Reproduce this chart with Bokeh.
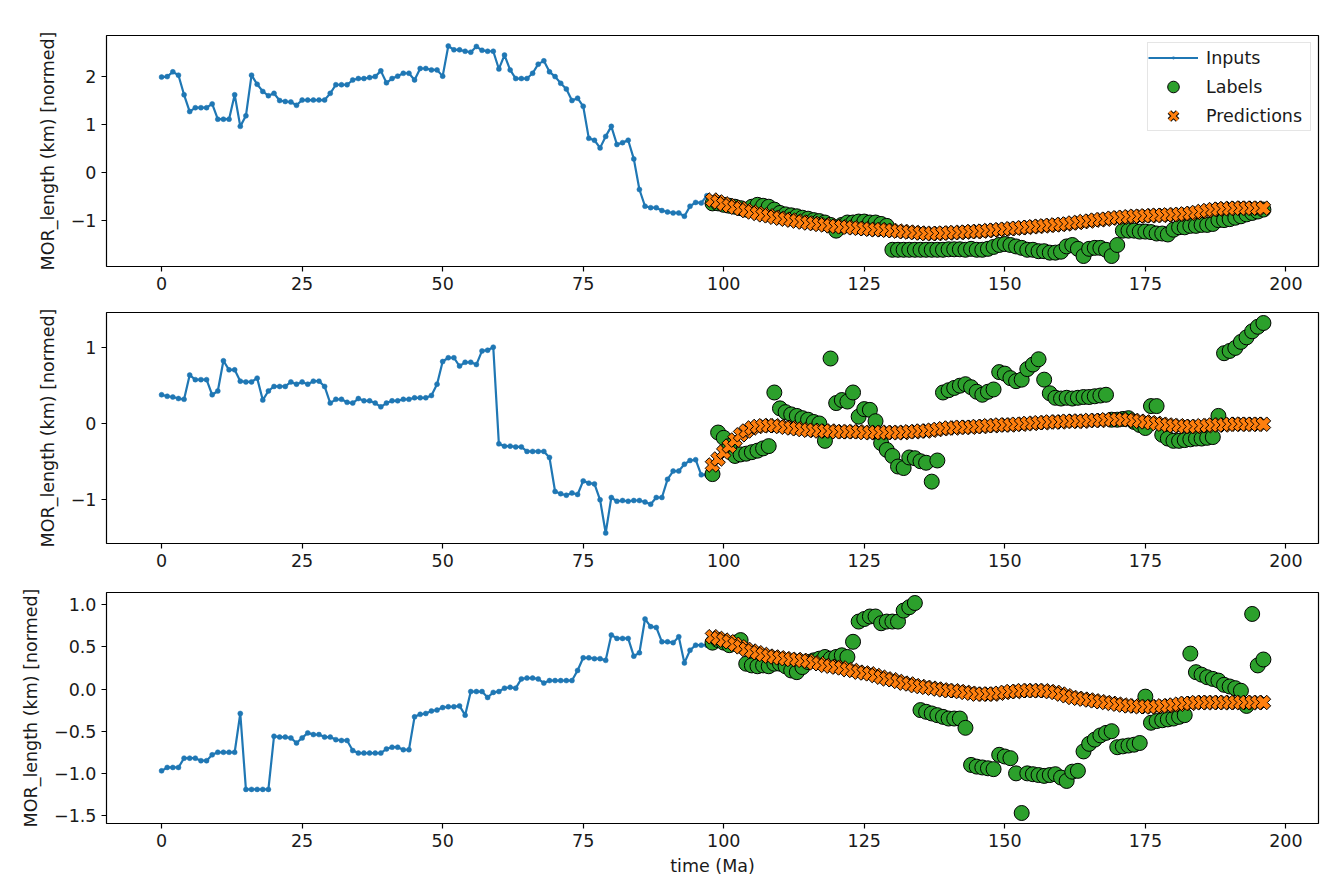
import numpy as np
from bokeh.plotting import figure
from bokeh.layouts import column
from bokeh.models import Range1d, FixedTicker, CustomJSTickFormatter, Legend, LegendItem
from bokeh.embed import file_html
from bokeh.resources import INLINE

# ---------------- data ----------------
x_ticks = [0, 25, 50, 75, 100, 125, 150, 175, 200]
label_start = 98

p1_inputs = [1.99, 2.00, 2.10, 2.03, 1.62, 1.27, 1.35, 1.35, 1.35, 1.43,
             1.11, 1.11, 1.11, 1.62, 0.96, 1.18, 2.03, 1.84, 1.69, 1.60,
             1.65, 1.50, 1.48, 1.47, 1.40, 1.51, 1.51, 1.51, 1.51, 1.51,
             1.65, 1.83, 1.83, 1.83, 1.93, 1.96, 1.96, 1.98, 2.00, 2.12,
             1.87, 1.96, 2.01, 2.07, 2.07, 1.93, 2.17, 2.17, 2.14, 2.14,
             2.01, 2.64, 2.56, 2.56, 2.53, 2.51, 2.63, 2.55, 2.53, 2.53,
             2.16, 2.45, 2.14, 1.96, 1.96, 1.96, 2.07, 2.26, 2.33, 2.10,
             2.00, 1.86, 1.74, 1.50, 1.55, 1.38, 0.71, 0.67, 0.51, 0.75,
             0.96, 0.58, 0.62, 0.67, 0.28, -0.36, -0.71, -0.74, -0.74, -0.80,
             -0.83, -0.85, -0.85, -0.92, -0.71, -0.63, -0.64, -0.49]
p1_labels = [-0.65, -0.65, -0.68, -0.70, -0.72, -0.75, -0.78,
             -0.72, -0.68, -0.70, -0.72, -0.78,
             -0.85, -0.88, -0.90, -0.92, -0.95, -0.97, -1.00, -1.02, -1.05, -1.10,
             -1.22, -1.10, -1.05, -1.05, -1.03, -1.03, -1.05, -1.05, -1.08, -1.12,
             -1.62, -1.62, -1.62, -1.62, -1.62, -1.62, -1.62, -1.62, -1.62, -1.62,
             -1.61, -1.61, -1.61, -1.62,
             -1.60, -1.62, -1.62, -1.60, -1.56,
             -1.52, -1.50, -1.52, -1.55, -1.58,
             -1.62, -1.62, -1.65, -1.65, -1.68, -1.68, -1.66,
             -1.55, -1.52, -1.60, -1.75, -1.60, -1.58, -1.58, -1.62, -1.75, -1.52,
             -1.22, -1.22, -1.22, -1.24, -1.24, -1.25,
             -1.28, -1.28, -1.30, -1.20,
             -1.15, -1.15, -1.12, -1.12, -1.10, -1.10, -1.08,
             -1.00, -1.00, -0.98, -0.95, -0.92,
             -0.88, -0.85, -0.82, -0.78]
p1_preds = [-0.58, -0.62, -0.66, -0.70, -0.73, -0.76, -0.80, -0.83, -0.86, -0.89,
            -0.91, -0.94, -0.96, -0.98, -1.00, -1.02, -1.04, -1.06, -1.07, -1.09,
            -1.10, -1.12, -1.13, -1.14, -1.15, -1.16, -1.17, -1.18, -1.19, -1.20,
            -1.20, -1.21, -1.22, -1.23, -1.24, -1.25, -1.26, -1.27, -1.28, -1.28,
            -1.28, -1.27, -1.27, -1.26, -1.26, -1.25, -1.24, -1.24, -1.23, -1.22,
            -1.21, -1.20, -1.19, -1.18, -1.17, -1.16, -1.15, -1.14, -1.13, -1.12,
            -1.11, -1.10, -1.09, -1.08, -1.06, -1.05, -1.03, -1.02, -1.00, -0.99,
            -0.98, -0.96, -0.95, -0.94, -0.93, -0.92, -0.92, -0.91, -0.91, -0.90,
            -0.90, -0.89, -0.89, -0.88, -0.87, -0.86, -0.84, -0.82, -0.80, -0.78,
            -0.77, -0.76, -0.76, -0.75, -0.75, -0.75, -0.75, -0.75, -0.75]

p2_inputs = [0.38, 0.36, 0.35, 0.33, 0.32, 0.64, 0.58, 0.58, 0.58, 0.38,
             0.43, 0.83, 0.71, 0.71, 0.56, 0.55, 0.55, 0.60, 0.31, 0.43,
             0.49, 0.49, 0.49, 0.55, 0.52, 0.55, 0.52, 0.56, 0.56, 0.49,
             0.27, 0.32, 0.32, 0.28, 0.27, 0.33, 0.30, 0.30, 0.27, 0.22,
             0.27, 0.30, 0.30, 0.32, 0.32, 0.34, 0.34, 0.34, 0.37, 0.52,
             0.82, 0.87, 0.87, 0.76, 0.81, 0.81, 0.78, 0.96, 0.97, 1.01,
             -0.27, -0.30, -0.30, -0.31, -0.31, -0.37, -0.37, -0.37, -0.37, -0.45,
             -0.90, -0.93, -0.95, -0.92, -0.94, -0.76, -0.79, -0.80, -1.01, -1.45,
             -0.98, -1.03, -1.02, -1.03, -1.02, -1.02, -1.04, -1.07, -0.98, -0.98,
             -0.74, -0.63, -0.63, -0.54, -0.49, -0.48, -0.68, -0.68]
p2_labels = [-0.67, -0.12, -0.19, -0.30, -0.43, -0.41, -0.40, -0.38, -0.36, -0.33,
             -0.30, 0.41, 0.20, 0.15, 0.12, 0.10, 0.07, 0.05, 0.02, 0.00,
             -0.23, 0.86, 0.27, 0.31, 0.29, 0.41, 0.09, 0.19, 0.18, 0.03,
             -0.26, -0.35, -0.43, -0.57, -0.59, -0.45, -0.46, -0.50, -0.52, -0.77,
             -0.49, 0.41, 0.44, 0.47, 0.50, 0.52, 0.48, 0.42, 0.38, 0.42,
             0.45, 0.68, 0.66, 0.60, 0.56, 0.58, 0.72, 0.78, 0.85, 0.58,
             0.40, 0.34, 0.33, 0.34, 0.33, 0.34, 0.35, 0.35, 0.36, 0.37,
             0.38, 0.05, 0.05, 0.06, 0.07, 0.02, -0.02, -0.06, 0.23, 0.23,
             -0.15, -0.20, -0.23, -0.23, -0.22, -0.21, -0.20, -0.20, -0.19, -0.18,
             0.10, 0.93, 0.96, 1.00, 1.08, 1.14, 1.22, 1.28, 1.33]
p2_preds = [-0.55, -0.47, -0.38, -0.30, -0.22, -0.15, -0.10, -0.06, -0.04, -0.03,
            -0.03, -0.03, -0.04, -0.05, -0.06, -0.07, -0.08, -0.09, -0.09, -0.10,
            -0.10, -0.10, -0.11, -0.11, -0.11, -0.11, -0.11, -0.12, -0.12, -0.12,
            -0.12, -0.12, -0.12, -0.12, -0.12, -0.11, -0.11, -0.10, -0.10, -0.09,
            -0.08, -0.07, -0.06, -0.06, -0.05, -0.05, -0.05, -0.04, -0.04, -0.03,
            -0.03, -0.02, -0.02, -0.02, -0.01, -0.01, 0.00, 0.00, 0.01, 0.01,
            0.02, 0.02, 0.02, 0.03, 0.03, 0.03, 0.03, 0.04, 0.04, 0.04,
            0.05, 0.05, 0.05, 0.05, 0.05, 0.04, 0.03, 0.02, 0.01, 0.00,
            -0.01, -0.02, -0.03, -0.03, -0.04, -0.04, -0.04, -0.03, -0.03, -0.02,
            -0.02, -0.02, -0.01, -0.01, -0.01, -0.01, -0.01, -0.01, -0.01]

p3_inputs = [-0.97, -0.93, -0.93, -0.93, -0.82, -0.82, -0.82, -0.85, -0.85, -0.78,
             -0.75, -0.75, -0.75, -0.75, -0.29, -1.19, -1.19, -1.19, -1.19, -1.19,
             -0.56, -0.57, -0.57, -0.58, -0.64, -0.58, -0.52, -0.54, -0.54, -0.57,
             -0.57, -0.60, -0.61, -0.61, -0.73, -0.76, -0.76, -0.76, -0.76, -0.76,
             -0.71, -0.69, -0.69, -0.72, -0.72, -0.33, -0.30, -0.29, -0.26, -0.25,
             -0.22, -0.21, -0.21, -0.20, -0.31, -0.03, -0.03, -0.03, -0.10, -0.04,
             -0.03, 0.01, 0.02, 0.01, 0.12, 0.13, 0.13, 0.12, 0.07, 0.10,
             0.10, 0.10, 0.10, 0.10, 0.22, 0.37, 0.37, 0.36, 0.36, 0.34,
             0.64, 0.60, 0.60, 0.60, 0.39, 0.43, 0.83, 0.74, 0.73, 0.56,
             0.56, 0.55, 0.62, 0.31, 0.46, 0.52, 0.52, 0.52]
p3_labels = [0.55, 0.58, 0.55, 0.52, 0.55, 0.58, 0.30, 0.28, 0.27, 0.28,
             0.27, 0.30, 0.30, 0.27, 0.22, 0.20, 0.26, 0.32, 0.34, 0.36,
             0.38, 0.36, 0.38, 0.40, 0.38, 0.56, 0.80, 0.83, 0.86, 0.86,
             0.78, 0.80, 0.80, 0.80, 0.93, 0.97, 1.02, -0.25, -0.27, -0.29,
             -0.31, -0.33, -0.35, -0.35, -0.35, -0.46, -0.90, -0.92, -0.93, -0.94,
             -0.95, -0.78, -0.80, -0.82, -1.00, -1.47, -1.00, -1.01, -1.02, -1.03,
             -1.02, -1.01, -1.05, -1.09, -0.98, -0.97, -0.74, -0.65, -0.60, -0.55,
             -0.52, -0.50, -0.69, -0.68, -0.67, -0.66, -0.64, -0.09, -0.40, -0.38,
             -0.37, -0.36, -0.35, -0.33, -0.31, 0.42, 0.20, 0.17, 0.14, 0.12,
             0.10, 0.05, 0.03, 0.01, -0.02, -0.20, 0.89, 0.28, 0.35]
p3_preds = [0.62, 0.60, 0.58, 0.56, 0.53, 0.50, 0.47, 0.45, 0.43, 0.41,
            0.39, 0.38, 0.37, 0.36, 0.35, 0.35, 0.34, 0.33, 0.31, 0.30,
            0.28, 0.27, 0.26, 0.25, 0.23, 0.22, 0.20, 0.19, 0.18, 0.16,
            0.14, 0.12, 0.11, 0.09, 0.07, 0.06, 0.04, 0.03, 0.02, 0.01,
            0.00, -0.01, -0.02, -0.02, -0.03, -0.04, -0.05, -0.06, -0.06, -0.06,
            -0.06, -0.05, -0.04, -0.03, -0.03, -0.02, -0.02, -0.02, -0.02, -0.02,
            -0.03, -0.04, -0.06, -0.08, -0.10, -0.11, -0.12, -0.13, -0.14, -0.15,
            -0.16, -0.17, -0.18, -0.19, -0.20, -0.20, -0.21, -0.21, -0.21, -0.21,
            -0.20, -0.20, -0.19, -0.18, -0.17, -0.17, -0.16, -0.16, -0.16, -0.16,
            -0.16, -0.16, -0.16, -0.16, -0.16, -0.16, -0.16, -0.16, -0.16]

p1_yticks = [-1, 0, 1, 2]
p2_yticks = [-1, 0, 1]
p3_yticks = [-1.5, -1.0, -0.5, 0.0, 0.5, 1.0]

y_label = "MOR_length (km) [normed]"
x_label = "time (Ma)"
legend_names = ["Inputs", "Labels", "Predictions"]

# ---------------- styling ----------------
FONT = "DejaVu Sans"
FS = "17.5px"
C_IN = "#1f77b4"
C_LAB = "#2ca02c"
C_PRED = "#ff7f0e"
W = 1334


def make_panel(inputs, labels, preds, yticks, decimals, height, top, bottom,
               show_xlabel=False, show_legend=False):
    xi = list(range(len(inputs)))
    xl = list(range(label_start, label_start + len(labels)))
    xp = list(range(label_start, label_start + len(preds)))
    xmax = max(xl[-1], xp[-1])
    xpad = 0.05 * xmax
    allv = inputs + labels + preds
    lo, hi = min(allv), max(allv)
    ypad = 0.05 * (hi - lo)

    p = figure(width=W, height=height, output_backend="svg", toolbar_location=None,
               x_range=Range1d(-xpad, xmax + xpad), y_range=Range1d(lo - ypad, hi + ypad))
    p.min_border_left = 106
    p.min_border_right = 16
    p.min_border_top = top
    p.min_border_bottom = bottom
    p.background_fill_color = "white"
    p.border_fill_color = "white"
    p.outline_line_color = "black"
    p.outline_line_width = 1.2
    p.outline_line_alpha = 1
    p.xgrid.visible = False
    p.ygrid.visible = False

    for ax in (p.xaxis[0], p.yaxis[0]):
        ax.axis_line_color = None
        ax.major_tick_line_color = "black"
        ax.major_tick_line_width = 1.2
        ax.major_tick_out = 5
        ax.major_tick_in = 0
        ax.minor_tick_line_color = None
        ax.major_label_text_font = FONT
        ax.major_label_text_font_size = FS
        ax.major_label_text_color = "#1a1a1a"
        ax.major_label_standoff = 5
        ax.axis_label_text_font = FONT
        ax.axis_label_text_font_size = FS
        ax.axis_label_text_font_style = "normal"
        ax.axis_label_text_color = "#1a1a1a"

    p.xaxis.ticker = FixedTicker(ticks=x_ticks)
    p.xaxis.formatter = CustomJSTickFormatter(code="return String(Math.round(tick));")
    p.yaxis.ticker = FixedTicker(ticks=yticks)
    p.yaxis.formatter = CustomJSTickFormatter(
        args=dict(d=decimals),
        code="const s = Math.abs(tick).toFixed(d); return (tick < -1e-9 ? '\u2212' : '') + s;")
    p.yaxis.axis_label = y_label
    p.yaxis.axis_label_standoff = 10
    if show_xlabel:
        p.xaxis.axis_label = x_label
        p.xaxis.axis_label_standoff = 6

    r_line = p.line(xi, inputs, line_color=C_IN, line_width=2.2)
    # small dot glyph (hidden under the input points) – used for the legend entry
    g_dot = p.scatter(xi, inputs, marker="dot", size=4, line_color=C_IN, fill_color=C_IN)
    p.scatter(xi, inputs, marker="circle", size=5, fill_color=C_IN,
              line_color=C_IN, line_width=0.5)
    r_lab = p.scatter(xl, labels, marker="circle", size=15, fill_color=C_LAB,
                      line_color="black", line_width=1)
    # two-layer "x" (hidden under the filled X markers) – used for the legend entry
    g_x_edge = p.scatter(xp, preds, marker="x", size=9, line_color="black", line_width=5)
    g_x_fill = p.scatter(xp, preds, marker="x", size=9, line_color=C_PRED, line_width=3)
    p.scatter(xp, preds, marker="plus", size=15, angle=np.pi / 4,
              fill_color=C_PRED, line_color="black", line_width=1)

    if show_legend:
        legend = Legend(items=[
            LegendItem(label=legend_names[0], renderers=[r_line, g_dot]),
            LegendItem(label=legend_names[1], renderers=[r_lab]),
            LegendItem(label=legend_names[2], renderers=[g_x_edge, g_x_fill]),
        ], location="top_right")
        legend.label_text_font = FONT
        legend.label_text_font_size = FS
        legend.label_text_color = "#1a1a1a"
        legend.border_line_color = "#cccccc"
        legend.border_line_width = 1
        legend.background_fill_alpha = 0.8
        legend.glyph_width = 50
        legend.glyph_height = 29
        legend.label_standoff = 8
        legend.label_height = 22
        legend.label_width = 104
        legend.spacing = 0
        legend.padding = 0
        legend.margin = 7
        p.add_layout(legend, "center")
    return p


p1 = make_panel(p1_inputs, p1_labels, p1_preds, p1_yticks, 0, 300, 35, 34, show_legend=True)
p2 = make_panel(p2_inputs, p2_labels, p2_preds, p2_yticks, 0, 277, 12, 34)
p3 = make_panel(p3_inputs, p3_labels, p3_preds, p3_yticks, 1, 308, 15, 62, show_xlabel=True)

layout = column(p1, p2, p3, spacing=0)
open("out.html", "w").write(file_html(layout, INLINE))
